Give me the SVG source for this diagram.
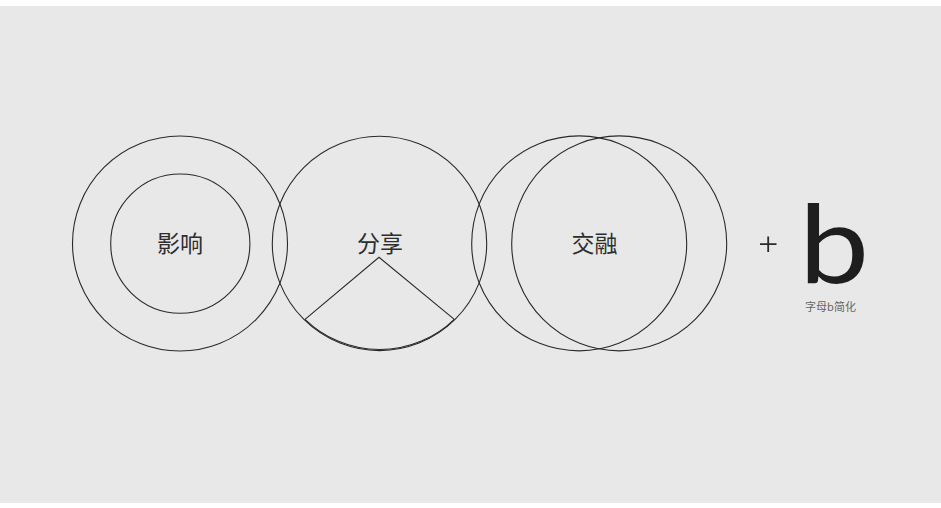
<svg xmlns="http://www.w3.org/2000/svg" width="941" height="508" viewBox="0 0 941 508">
<style>
.c{fill:none;stroke:#2a2a2a;stroke-width:1.1}
.t{font-family:"Noto Sans CJK SC","Noto Sans",sans-serif;fill:#2e2e2e;text-anchor:middle}
</style>
<rect x="0" y="0" width="941" height="508" fill="#ffffff"/>
<rect x="0" y="6" width="941" height="497" fill="#e8e8e8"/>
<g id="node-influence">
<circle class="c" cx="180" cy="243.5" r="107.5"/>
<circle class="c" cx="180.3" cy="243.6" r="69.6"/>
<text class="t" x="180" y="252" font-size="23">影响</text>
</g>
<g id="node-share">
<circle class="c" cx="379.5" cy="243.4" r="107.2"/>
<path class="c" d="M305 319.3 L379 257.3 L454.3 319.3"/>
<path class="c" stroke-width="1.6" d="M305 319.3 A107.2 107.2 0 0 0 454.3 319.3"/>
<text class="t" x="380" y="252" font-size="23">分享</text>
</g>
<g id="node-blend">
<circle class="c" cx="579.2" cy="243.4" r="107.5"/>
<circle class="c" cx="619.2" cy="243.4" r="107.5"/>
<text class="t" x="594.5" y="252" font-size="23">交融</text>
</g>
<g id="node-b">
<path d="M760 244.2 H776.5 M768.2 236.5 V252" stroke="#2a2a2a" stroke-width="1.8" fill="none"/>
<text x="834" y="283.3" font-family="Lato,'Noto Sans',sans-serif" font-size="108" fill="#1e1e1e" text-anchor="middle" transform="translate(834,0) scale(1.16,1) translate(-834,0)">b</text>
<text class="t" x="830.5" y="311" font-size="11" style="fill:#666666">字母b简化</text>
</g>
<g id="connectors"></g>
</svg>
